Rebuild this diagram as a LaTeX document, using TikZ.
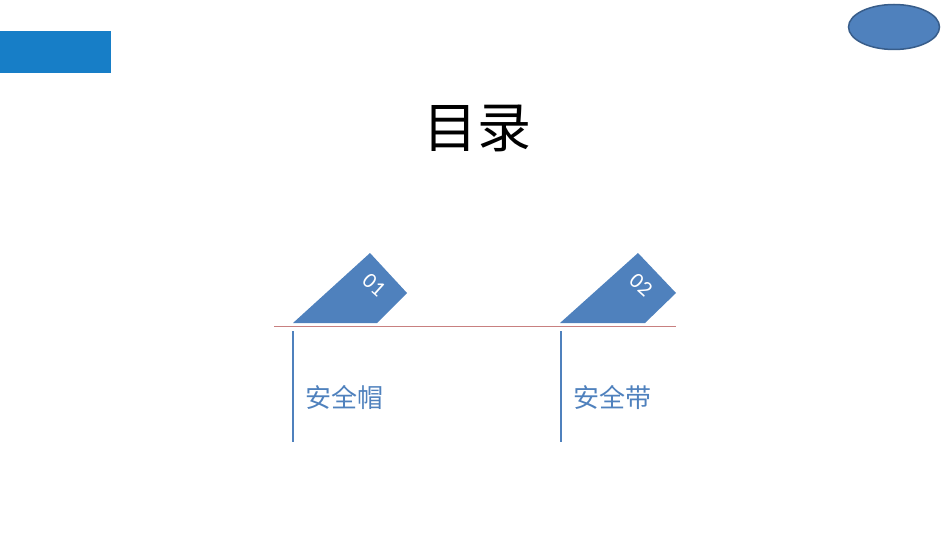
\documentclass[tikz,border=0pt]{standalone}
\usepackage{fontspec}
\setmainfont{Carlito}
\newfontfamily\cjk{Noto Sans CJK SC}
\usetikzlibrary{shapes.geometric}
\definecolor{tabblue}{RGB}{79,129,189}
\definecolor{barblue}{RGB}{23,126,199}
\definecolor{rimblue}{RGB}{56,93,138}
\definecolor{rulered}{RGB}{200,128,128}
\begin{document}
\begin{tikzpicture}
			[x=1pt,y=-1pt,
			tab/.style={fill=tabblue,draw=none},
			num/.style={text=white,font=\fontsize{22}{22}\selectfont,rotate=-42,inner sep=0pt},
			item/.style={text=tabblue,font=\cjk\fontsize{26}{26}\selectfont,anchor=west,inner sep=0pt},
			stem/.style={draw=tabblue,line width=2pt}]
			\useasboundingbox (0,0) rectangle (950,535);
			\fill[barblue] (0,31) rectangle (111,73);
			\node[ellipse,draw=rimblue,line width=1.5pt,fill=tabblue,minimum width=91pt,minimum height=45pt,name=badge] at (894,27) {};
			\node[font=\cjk\fontsize{54}{54}\selectfont,name=title] at (477,128) {目录};
			\draw[rulered,line width=1pt] (274,326) coordinate (r1) -- (676,326) coordinate (r2);
			\fill[tab] (293,323) -- (370,253) -- (407,293) -- (377,323) -- cycle;
			\fill[tab] (560,323) -- (638,253) -- (676,293) -- (645,323) -- cycle;
			\node[num,name=n1] at (374,285) {01};
			\node[num,name=n2] at (641,285) {02};
			\draw[stem] (293,331) coordinate (s1) -- (293,442) coordinate (e1);
			\draw[stem] (561,331) coordinate (s2) -- (561,442) coordinate (e2);
			\node[item,name=t1] at (305,397) {安全帽};
			\node[item,name=t2] at (573,397) {安全带};
		\end{tikzpicture}
\end{document}
